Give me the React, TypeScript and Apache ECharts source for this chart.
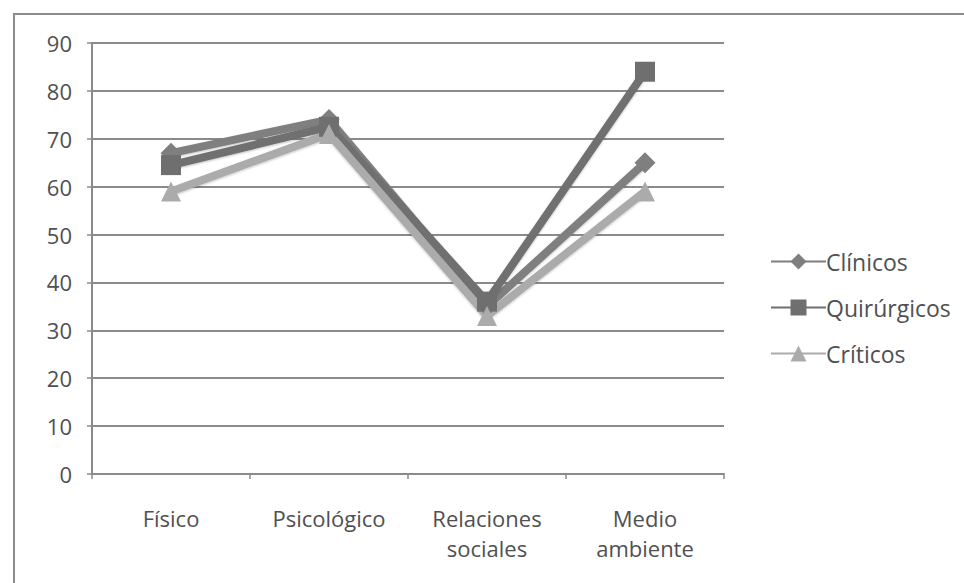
import React, { useEffect, useRef } from "react";
import * as echarts from "echarts";

const categories = ["Físico", "Psicológico", "Relaciones\nsociales", "Medio\nambiente"];
const clinicos = [67, 74, 35, 65];
const quirurgicos = [64.5, 72.5, 36, 84];
const criticos = [59, 71, 33, 59];

const yTicks = { min: 0, max: 90, interval: 10 };

const FONT = "'Open Sans', 'Noto Sans', sans-serif";

export default function App() {
  const ref = useRef<HTMLDivElement>(null);

  useEffect(() => {
    if (!ref.current) return;
    const chart = echarts.init(ref.current, undefined, { renderer: "svg" });

    const lineSeries = (
      name: string,
      data: number[],
      color: string,
      symbol: string,
      symbolSize: number
    ) => ({
      name,
      type: "line",
      data,
      symbol,
      symbolSize,
      showSymbol: true,
      lineStyle: { color, width: 8, shadowColor: "rgba(0,0,0,0.25)", shadowBlur: 2, shadowOffsetY: 1 },
      itemStyle: { color, borderColor: color, borderWidth: 0 },
      z: 3,
    });

    chart.setOption({
      animation: false,
      backgroundColor: "#ffffff",
      textStyle: { fontFamily: FONT },
      graphic: [
        {
          type: "rect",
          shape: { x: 14, y: 14, width: 960, height: 600 },
          style: { fill: "none", stroke: "#8c8c8c", lineWidth: 2 },
          silent: true,
          z: -1,
        },
      ],
      grid: { left: 92, right: 240, top: 43, bottom: 109, containLabel: false },
      legend: {
        orient: "vertical",
        left: 765,
        top: 245,
        itemWidth: 55,
        itemHeight: 20,
        itemGap: 23,
        textStyle: { fontFamily: FONT, fontSize: 23, color: "#505050", padding: [0, 0, 0, -5] },
        data: ["Clínicos", "Quirúrgicos", "Críticos"],
      },
      xAxis: {
        type: "category",
        data: categories,
        boundaryGap: true,
        axisLine: { show: true, lineStyle: { color: "#8a8a8a", width: 2 } },
        axisTick: { show: true, length: 5, alignWithLabel: false, lineStyle: { color: "#8a8a8a", width: 1.5 } },
        axisLabel: {
          margin: 29,
          fontFamily: FONT,
          fontSize: 22,
          color: "#505050",
          lineHeight: 30,
          interval: 0,
        },
        splitLine: { show: false },
      },
      yAxis: {
        type: "value",
        min: yTicks.min,
        max: yTicks.max,
        interval: yTicks.interval,
        axisLine: { show: true, lineStyle: { color: "#8a8a8a", width: 2 } },
        axisTick: { show: true, length: 5, inside: false, lineStyle: { color: "#8a8a8a", width: 1.5 } },
        axisLabel: { margin: 20, fontFamily: FONT, fontSize: 22, color: "#505050" },
        splitLine: { show: true, lineStyle: { color: "#8a8a8a", width: 2 } },
      },
      series: [
        lineSeries("Clínicos", clinicos, "#7f7f7f", "diamond", 21),
        lineSeries("Quirúrgicos", quirurgicos, "#6f6f6f", "rect", 20),
        lineSeries("Críticos", criticos, "#ababab", "triangle", 20),
      ],
    });

    return () => chart.dispose();
  }, []);

  return (
    <div
      ref={ref}
      style={{ position: "absolute", left: 0, top: 0, width: 964, height: 583 }}
    />
  );
}
